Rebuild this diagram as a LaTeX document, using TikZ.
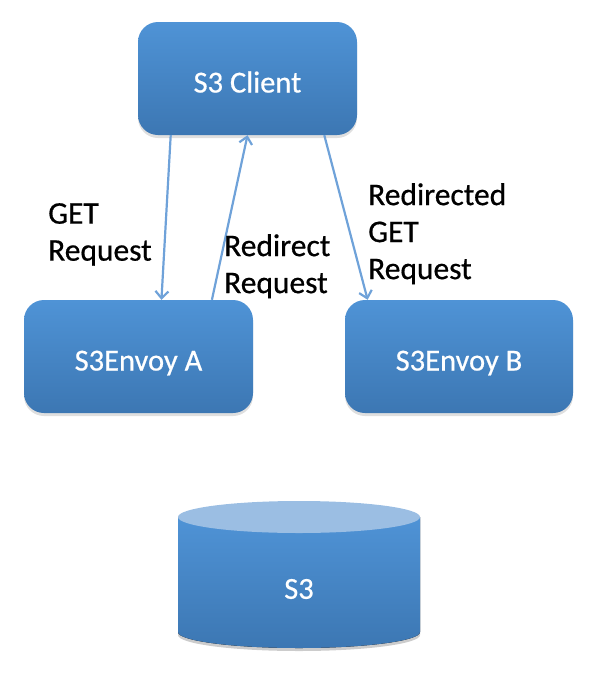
\documentclass[tikz,border=0pt]{standalone}
\usepackage{fontspec}
\setmainfont{Carlito}[FakeBold=0.6]
\usetikzlibrary{arrows.meta,calc,shadows}
\definecolor{boxtop}{HTML}{4F93D6}
\definecolor{boxbot}{HTML}{3C77B3}
\definecolor{cyltop}{HTML}{9BBEE3}
\definecolor{arrowblue}{HTML}{6FA2D9}

\begin{document}
\begin{tikzpicture}[x=1pt, y=-1pt,
		blockbox/.style={rounded corners=20pt, top color=boxtop, bottom color=boxbot, minimum height=113pt, text height=28pt, text depth=0pt, text=white, font=\fontsize{30.5}{36}\selectfont, drop shadow={opacity=0.25, shadow xshift=0pt, shadow yshift=-3pt}},
		reqarrow/.style={draw=arrowblue, line width=2.2pt, -{Straight Barb[length=7pt, width=13pt]}},
		reqlabel/.style={align=left, anchor=north west, inner sep=0pt, font=\fontsize{31.5}{37}\selectfont}]
		\useasboundingbox (0,0) rectangle (598,694);

		\node[blockbox, minimum width=219pt] at (247.5, 78.5) (client) {S3 Client};
		\node[blockbox, minimum width=229pt] at (138.5, 356.5) (enva) {S3Envoy A};
		\node[blockbox, minimum width=228pt] at (459, 356.5) (envb) {S3Envoy B};

		% storage cylinder
		\fill[black, opacity=0.2] (178, 520) -- (178, 635) arc[x radius=121, y radius=16, start angle=180, end angle=0] -- (420, 520) -- cycle;
		\fill[top color=boxtop, bottom color=boxbot] (178, 517) -- (178, 632) arc[x radius=121, y radius=16, start angle=180, end angle=0] -- (420, 517) -- cycle;
		\fill[cyltop] (299, 517) ellipse[x radius=121, y radius=16];
		\node[text=white, font=\fontsize{30.5}{36}\selectfont] at (299, 589) (store) {S3};

		\draw[reqarrow] ($(client.south west)!0.15!(client.south east)$) -- ($(enva.north west)!0.60!(enva.north east)$);
		\draw[reqarrow] ($(enva.north west)!0.82!(enva.north east)$) -- ($(client.south west)!0.50!(client.south east)$);
		\draw[reqarrow] ($(client.south west)!0.85!(client.south east)$) -- ($(envb.north west)!0.10!(envb.north east)$);

		\node[reqlabel] at (48, 203) (getlbl) {GET\\Request};
		\node[reqlabel] at (224, 234) (redirlbl) {Redirect\\Request};
		\node[reqlabel] at (368, 183) (regetlbl) {Redirected\\GET\\Request};
	\end{tikzpicture}
\end{document}
